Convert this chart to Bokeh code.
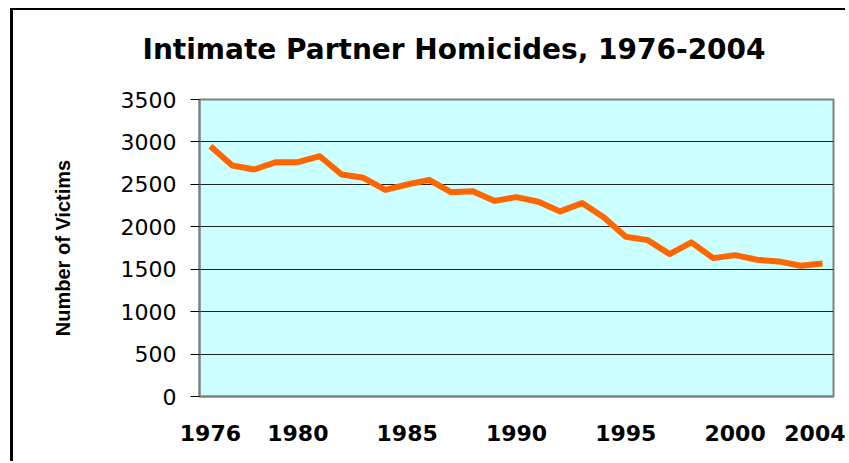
from bokeh.plotting import figure
from bokeh.models import FixedTicker, Title
from bokeh.embed import file_html
from bokeh.resources import INLINE

years = list(range(1976, 2005))
victims = [2950, 2722, 2675, 2761, 2761, 2832, 2616, 2577, 2435, 2498,
           2553, 2408, 2420, 2305, 2350, 2295, 2181, 2279, 2110, 1882,
           1843, 1679, 1816, 1631, 1666, 1611, 1592, 1541, 1568]
x_tick_years = [1976, 1980, 1985, 1990, 1995, 2000, 2004]
y_ticks = [0, 500, 1000, 1500, 2000, 2500, 3000, 3500]
title_text = "Intimate Partner Homicides, 1976-2004"
y_title = "Number of Victims"

p = figure(width=835, height=453, output_backend="svg", toolbar_location=None,
           x_range=(1975.5, 2004.5), y_range=(0, 3500),
           min_border_left=186, min_border_right=15, min_border_top=89, min_border_bottom=67,
           styles={"margin-left": "10px", "margin-top": "8px",
                   "border-left": "3px solid black", "border-top": "2px solid black"})

p.title = Title(text=title_text, align="left", offset=-57, standoff=0,
                text_font="DejaVu Sans", text_font_size="28px", text_font_style="bold",
                text_color="black")
# empty spacer panel between the title and the plot frame
p.add_layout(Title(text=" ", standoff=31, text_font_size="1px"), "above")

p.background_fill_color = "#CCFFFF"
p.border_fill_color = "white"
p.outline_line_color = "#808080"
p.outline_line_width = 2

p.line(years, victims, line_color="#FF6600", line_width=6, line_join="round")

p.xgrid.grid_line_color = None
p.ygrid.ticker = FixedTicker(ticks=y_ticks)
p.ygrid.grid_line_color = "#222222"
p.ygrid.grid_line_width = 1

xa = p.xaxis[0]
xa.ticker = FixedTicker(ticks=x_tick_years)
xa.major_label_overrides = {y: str(y) for y in x_tick_years}
xa.major_tick_out = 0
xa.major_tick_in = 0
xa.minor_tick_out = 0
xa.minor_tick_in = 0
xa.axis_line_color = "#808080"
xa.axis_line_width = 2
xa.major_label_standoff = 28
xa.major_label_text_font = "DejaVu Sans"
xa.major_label_text_font_style = "bold"
xa.major_label_text_font_size = "22px"
xa.major_label_text_color = "black"

ya = p.yaxis[0]
ya.ticker = FixedTicker(ticks=y_ticks)
ya.major_tick_out = 9
ya.major_tick_in = 0
ya.minor_tick_out = 0
ya.minor_tick_in = 0
ya.major_tick_line_color = "black"
ya.axis_line_color = "#808080"
ya.axis_line_width = 2
ya.major_label_standoff = 14
ya.major_label_text_font = "DejaVu Sans"
ya.major_label_text_font_size = "22px"
ya.major_label_text_color = "black"
ya.axis_label = y_title
ya.axis_label_standoff = 44
ya.axis_label_text_font = "Liberation Sans"
ya.axis_label_text_font_style = "bold"
ya.axis_label_text_font_size = "20px"
ya.axis_label_text_color = "black"

open("out.html", "w").write(file_html(p, INLINE))
